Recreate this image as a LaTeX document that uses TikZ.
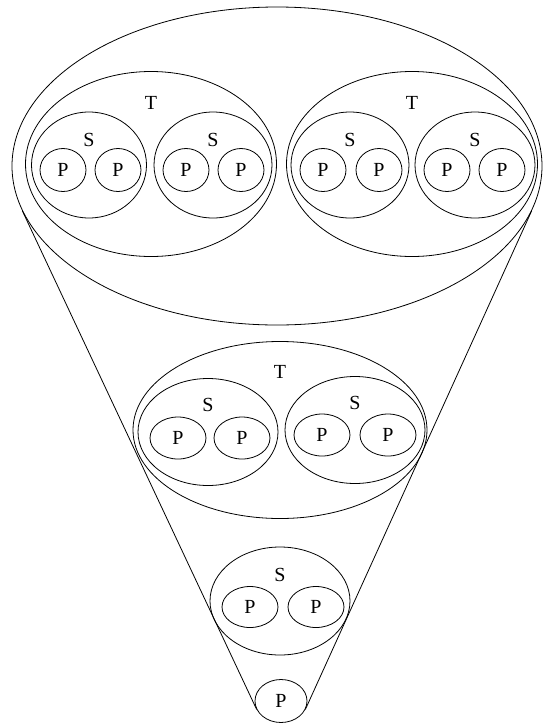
\documentclass[tikz,border=0pt]{standalone}
\usepackage{fontspec}
\setmainfont{Liberation Serif}
\usepackage{tikz}
\usetikzlibrary{shapes.geometric,positioning}

\begin{document}
\begin{tikzpicture}[
    x=1pt, y=-1pt,
    every node/.style={font=\fontsize{20}{24}\selectfont},
    oval/.style={ellipse, draw=black, line width=0.8pt, inner sep=0pt},
    bigoval/.style={oval, minimum width=530pt, minimum height=318pt},
    toval/.style={oval, minimum width=251pt, minimum height=185pt},
    moval/.style={oval, minimum width=294pt, minimum height=177pt},
    soval/.style={oval, minimum width=118pt, minimum height=106pt},
    ssoval/.style={oval, minimum width=140pt, minimum height=107pt},
    poval/.style={oval, minimum width=46pt, minimum height=43pt},
    ppoval/.style={oval, minimum width=56pt, minimum height=42pt},
    lab/.style={inner sep=0pt},
    cone/.style={line width=0.8pt, black}
]
\useasboundingbox (0,0) rectangle (543,724);

% Top level
\node[bigoval] (big) at (277,166) {};

\node[toval] (tl) at (151,164) {};
\node[lab, below=25pt of tl.north] (tl-t) {T};
\node[soval, minimum width=115pt] (tl-s1) at (89,165) {};
\node[lab, below=21pt of tl-s1.north] (tl-s1-t) {S};
\node[poval] (tl-p1) at (63,170) {P};
\node[poval] (tl-p2) at (118,170) {P};
\node[soval] (tl-s2) at (213,165) {};
\node[lab, below=21pt of tl-s2.north] (tl-s2-t) {S};
\node[poval] (tl-p3) at (186,170) {P};
\node[poval] (tl-p4) at (241,170) {P};

\node[toval] (tr) at (412,164) {};
\node[lab, below=25pt of tr.north] (tr-t) {T};
\node[soval] (tr-s1) at (350,165) {};
\node[lab, below=21pt of tr-s1.north] (tr-s1-t) {S};
\node[poval] (tr-p1) at (323,170) {P};
\node[poval] (tr-p2) at (379,170) {P};
\node[soval, minimum width=120pt] (tr-s2) at (475,165) {};
\node[lab, below=21pt of tr-s2.north] (tr-s2-t) {S};
\node[poval] (tr-p3) at (447,170) {P};
\node[poval] (tr-p4) at (502,170) {P};

% Middle level
\node[moval] (mt) at (280,430) {};
\node[lab, below=24pt of mt.north] (mt-t) {T};
\node[ssoval] (ms1) at (208,432) {};
\node[lab, below=20pt of ms1.north] (ms1-t) {S};
\node[ppoval] (mp1) at (178,438) {P};
\node[ppoval] (mp2) at (242,438) {P};
\node[ssoval] (ms2) at (355,430) {};
\node[lab, below=20pt of ms2.north] (ms2-t) {S};
\node[ppoval] (mp3) at (322,435) {P};
\node[ppoval] (mp4) at (388,435) {P};

% Lower levels
\node[ssoval, minimum height=108pt] (bs) at (280,601) {};
\node[lab, below=21pt of bs.north] (bs-t) {S};
\node[ppoval, minimum height=41pt] (bp1) at (250,607) {P};
\node[ppoval, minimum height=41pt] (bp2) at (316,607) {P};

\node[oval, minimum width=52pt, minimum height=43pt] (pb) at (281,701) {P};

% Cone
\draw[cone] (big.190) -- (pb.199);
\draw[cone] (big.350) -- (pb.341);

\end{tikzpicture}
\end{document}
